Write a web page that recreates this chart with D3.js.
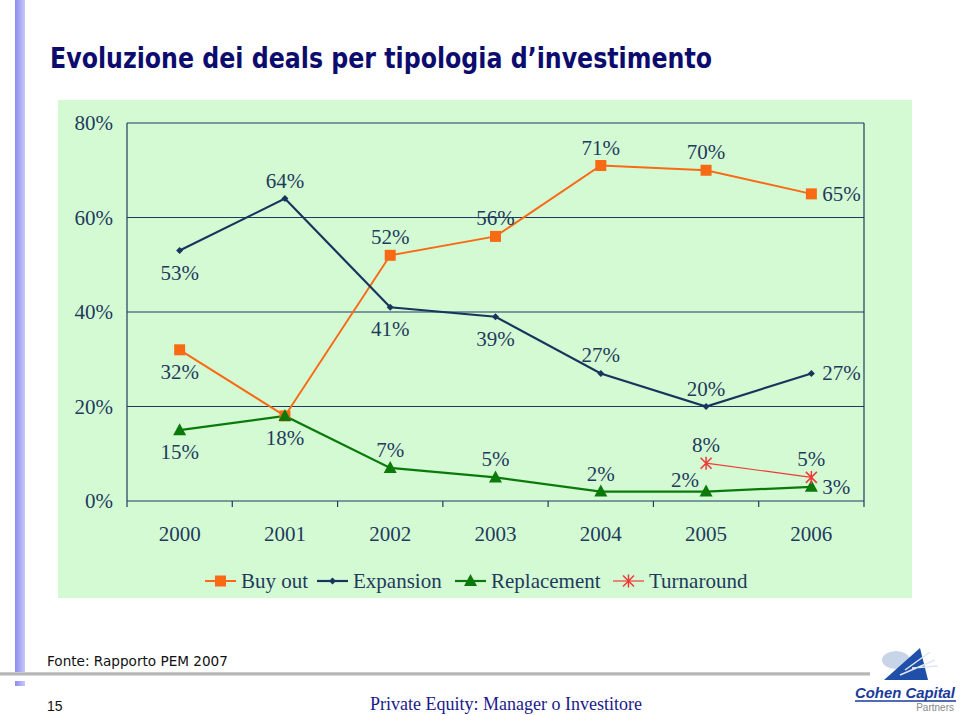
<!DOCTYPE html>
<html><head><meta charset="utf-8">
<script src="https://cdn.jsdelivr.net/npm/d3@7/dist/d3.min.js"></script>
<style>body{margin:0;background:#fff}svg{display:block}</style>
</head><body>
<svg id="c" width="960" height="715"></svg>
<script>
const years = ["2000","2001","2002","2003","2004","2005","2006"];
const buyout = [32,18,52,56,71,70,65];
const expansion = [53,64,41,39,27,20,27];
const replacement = [15,18,7,5,2,2,3];
const turnaround = [null,null,null,null,null,8,5];
const yTicks = [0,20,40,60,80];
const seriesNames = ["Buy out","Expansion","Replacement","Turnaround"];
// label placement per point (null = no label)
const buyoutLab = ["below",null,"above","above","above","above","right"];
const expansionLab = ["below","above","below","below","above","above","right"];
const replacementLab = ["below","below","above","above","above","leftabove","right"];
const turnaroundLab = [null,null,null,null,null,"above","above"];

const svg = d3.select("#c");
const navy = "#1f3b5c";

// left decorative bar
const defs = svg.append("defs");
const g1 = defs.append("linearGradient").attr("id","bar").attr("x1","0").attr("x2","1");
g1.append("stop").attr("offset","0").attr("stop-color","#8c8cf0");
g1.append("stop").attr("offset","1").attr("stop-color","#c8c8f8");
svg.append("rect").attr("x",15).attr("y",0).attr("width",10).attr("height",672).attr("fill","url(#bar)");
svg.append("rect").attr("x",15).attr("y",681).attr("width",10).attr("height",5).attr("fill","url(#bar)");
const g2 = defs.append("linearGradient").attr("id","hl").attr("x1","0").attr("y1","0").attr("x2","0").attr("y2","1");
g2.append("stop").attr("offset","0").attr("stop-color","#d8d8d8");
g2.append("stop").attr("offset","0.5").attr("stop-color","#a8a8a8");
g2.append("stop").attr("offset","1").attr("stop-color","#e8e8e8");
svg.append("rect").attr("x",0).attr("y",672).attr("width",870).attr("height",4).attr("fill","url(#hl)");

// title
svg.append("text").attr("x",50).attr("y",68).attr("font-family","DejaVu Sans").attr("font-weight","bold")
  .attr("font-size",29).attr("fill","#0c0c6e").attr("textLength",662).attr("lengthAdjust","spacingAndGlyphs")
  .text("Evoluzione dei deals per tipologia d’investimento");

// chart panel
svg.append("rect").attr("x",58).attr("y",100).attr("width",854).attr("height",498).attr("fill","#d4fad4");

const x = d3.scaleBand().domain(years).range([127,864]);
const y = d3.scaleLinear().domain([0,80]).range([501,123]);
const serif = "Liberation Serif";

// gridlines
svg.append("g").selectAll("line").data(yTicks).join("line")
  .attr("x1",127).attr("x2",864).attr("y1",d=>y(d)).attr("y2",d=>y(d))
  .attr("stroke",navy).attr("stroke-width",1.2);
// right border & left axis
svg.append("line").attr("x1",864).attr("x2",864).attr("y1",y(80)).attr("y2",y(0)).attr("stroke",navy).attr("stroke-width",1.2);
svg.append("line").attr("x1",127).attr("x2",127).attr("y1",y(80)).attr("y2",y(0)+6).attr("stroke",navy).attr("stroke-width",1.2);

// y labels
svg.append("g").selectAll("text").data(yTicks).join("text")
  .attr("x",113).attr("y",d=>y(d)+7).attr("text-anchor","end")
  .attr("font-family",serif).attr("font-size",21).attr("fill",navy).text(d=>d+"%");

// x axis ticks
const bounds = years.map(d=>x(d)).concat([864]);
svg.append("g").selectAll("line").data(bounds.slice(1)).join("line")
  .attr("x1",d=>d).attr("x2",d=>d).attr("y1",y(0)).attr("y2",y(0)+6).attr("stroke",navy).attr("stroke-width",1.2);
svg.append("g").selectAll("text").data(years).join("text")
  .attr("x",d=>x(d)+x.bandwidth()/2).attr("y",541).attr("text-anchor","middle")
  .attr("font-family",serif).attr("font-size",21).attr("fill",navy).text(d=>d);

const cx = i => x(years[i]) + x.bandwidth()/2;

const series = [
  {name:seriesNames[0], vals:buyout, lab:buyoutLab, color:"#f86a14", w:2, marker:"square"},
  {name:seriesNames[1], vals:expansion, lab:expansionLab, color:"#17365d", w:2.2, marker:"diamond"},
  {name:seriesNames[2], vals:replacement, lab:replacementLab, color:"#0b7a0b", w:2.2, marker:"triangle"},
  {name:seriesNames[3], vals:turnaround, lab:turnaroundLab, color:"#f03838", w:1.2, marker:"star"}
];

function drawMarker(g, type, px, py, color){
  if(type==="square"){
    g.append("rect").attr("x",px-5.5).attr("y",py-5.5).attr("width",11).attr("height",11).attr("fill",color);
  } else if(type==="diamond"){
    g.append("path").attr("d",`M${px},${py-3.5}L${px+3.5},${py}L${px},${py+3.5}L${px-3.5},${py}Z`).attr("fill",color);
  } else if(type==="triangle"){
    g.append("path").attr("d",`M${px},${py-7}L${px+6.5},${py+5}L${px-6.5},${py+5}Z`).attr("fill",color);
  } else if(type==="star"){
    const s=5.5;
    g.append("path").attr("d",`M${px-s},${py-s}L${px+s},${py+s}M${px-s},${py+s}L${px+s},${py-s}M${px},${py-s-1}L${px},${py+s+1}`)
      .attr("stroke",color).attr("stroke-width",1.5).attr("fill","none");
  }
}

const line = d3.line().defined(d=>d.v!==null).x(d=>cx(d.i)).y(d=>y(d.v));
series.forEach(s=>{
  const pts = s.vals.map((v,i)=>({v,i}));
  svg.append("path").attr("d",line(pts)).attr("fill","none").attr("stroke",s.color).attr("stroke-width",s.w);
});
series.forEach(s=>{
  const g = svg.append("g");
  s.vals.forEach((v,i)=>{ if(v!==null) drawMarker(g,s.marker,cx(i),y(v),s.color); });
});
// data labels
series.forEach(s=>{
  s.vals.forEach((v,i)=>{
    const p = s.lab[i]; if(v===null||!p) return;
    const px=cx(i), py=y(v);
    let tx=px, ty=py, anchor="middle";
    if(p==="above"){ ty=py-11; }
    else if(p==="below"){ ty=py+29; }
    else if(p==="right"){ tx=px+11; ty=py+7; anchor="start"; }
    else if(p==="leftabove"){ tx=px-21; ty=py-5; }
    svg.append("text").attr("x",tx).attr("y",ty).attr("text-anchor",anchor)
      .attr("font-family",serif).attr("font-size",21).attr("fill",navy).text(v+"%");
  });
});

// legend
const legX = [205,317,455,613];
series.forEach((s,k)=>{
  const lx = legX[k], ly = 581;
  const g = svg.append("g");
  g.append("line").attr("x1",lx).attr("x2",lx+31).attr("y1",ly).attr("y2",ly).attr("stroke",s.color).attr("stroke-width",s.w);
  drawMarker(g,s.marker,lx+15.5,ly,s.color);
  g.append("text").attr("x",lx+36).attr("y",ly+7).attr("font-family",serif).attr("font-size",21).attr("fill",navy).text(s.name);
});

// footer
svg.append("text").attr("x",47).attr("y",666).attr("font-family","DejaVu Sans").attr("font-size",13.6).attr("fill","#111").text("Fonte: Rapporto PEM 2007");
svg.append("text").attr("x",47).attr("y",711).attr("font-family","Liberation Sans").attr("font-size",14).attr("fill","#111").text("15");
svg.append("text").attr("x",370).attr("y",710).attr("font-family",serif).attr("font-size",18).attr("fill","#1a1a8a").text("Private Equity: Manager o Investitore");

// logo
const lg = svg.append("g");
lg.append("ellipse").attr("cx",896).attr("cy",660).attr("rx",14).attr("ry",9).attr("fill","#c8d4e8");
lg.append("path").attr("d","M884,680L920,648L928,680Z").attr("fill","#1f4fa8");
lg.append("path").attr("d","M905,670L930,652M900,675L935,660M912,668L938,666").attr("stroke","#e0e8f4").attr("stroke-width",1.5);
lg.append("text").attr("x",855).attr("y",698).attr("font-family","Liberation Sans").attr("font-weight","bold").attr("font-style","italic")
  .attr("font-size",14).attr("fill","#1a3a9a").attr("textLength",100).attr("lengthAdjust","spacingAndGlyphs").text("Cohen Capital");
lg.append("line").attr("x1",855).attr("x2",956).attr("y1",701).attr("y2",701).attr("stroke","#1a3a9a").attr("stroke-width",1.5);
lg.append("text").attr("x",954).attr("y",711).attr("text-anchor","end").attr("font-family","Liberation Sans").attr("font-size",10).attr("fill","#888").text("Partners");
</script>
</body></html>
